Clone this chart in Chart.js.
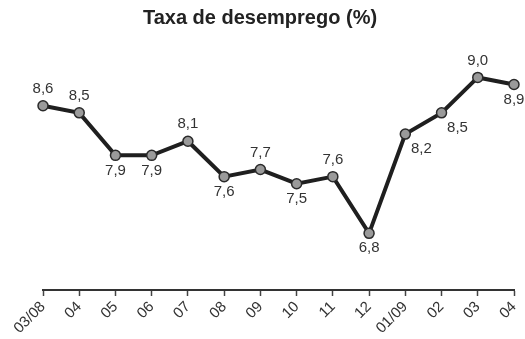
<!DOCTYPE html>
<html>
<head>
<meta charset="utf-8">
<script src="https://cdn.jsdelivr.net/npm/chart.js@4/dist/chart.umd.min.js"></script>
<style>
  html, body { margin: 0; padding: 0; background: #fff; }
  #wrap { width: 525px; height: 339px; }
</style>
</head>
<body>
<div id="wrap"><canvas id="c" width="525" height="339"></canvas></div>
<script>
// Monthly unemployment rate, March 2008 – April 2009
const months = ['03/08', '04', '05', '06', '07', '08', '09', '10', '11', '12', '01/09', '02', '03', '04'];
const rates  = [8.6, 8.5, 7.9, 7.9, 8.1, 7.6, 7.7, 7.5, 7.6, 6.8, 8.2, 8.5, 9.0, 8.9];
// Where each value label sits relative to its point
const labelSide = ['above', 'above', 'below', 'below', 'above', 'below', 'above', 'below', 'above', 'below', 'belowRight', 'belowRight', 'above', 'below'];

const FONT = '"Liberation Sans", Arial, sans-serif';

// Draws the rate next to each point, with a comma as decimal separator
const valueLabels = {
  id: 'valueLabels',
  afterDatasetsDraw(chart) {
    const ctx = chart.ctx;
    const meta = chart.getDatasetMeta(0);
    const values = chart.data.datasets[0].data;
    ctx.save();
    ctx.font = '15px ' + FONT;
    ctx.fillStyle = '#333';
    ctx.textAlign = 'center';
    ctx.textBaseline = 'middle';
    meta.data.forEach((pt, i) => {
      const txt = values[i].toFixed(1).replace('.', ',');
      let dx = 0, dy = 0;
      if (labelSide[i] === 'above') dy = -17;
      else if (labelSide[i] === 'below') dy = 15;
      else { dx = 16; dy = 15; }
      ctx.fillText(txt, pt.x + dx, pt.y + dy);
    });
    ctx.restore();
  }
};

new Chart(document.getElementById('c'), {
  type: 'line',
  data: {
    labels: months,
    datasets: [{
      data: rates,
      borderColor: '#1f1f1f',
      borderWidth: 4,
      tension: 0,
      pointRadius: 5,
      pointBackgroundColor: '#9a9a9a',
      pointBorderColor: '#2a2a2a',
      pointBorderWidth: 1.5,
      clip: false
    }]
  },
  options: {
    responsive: false,
    animation: false,
    layout: { padding: { left: 0, right: 5, top: 0, bottom: 0 } },
    plugins: {
      legend: { display: false },
      tooltip: { enabled: false },
      title: {
        display: true,
        text: 'Taxa de desemprego (%)',
        color: '#222',
        font: { family: FONT, size: 20, weight: 'bold' },
        padding: { top: 6, bottom: 12 }
      }
    },
    scales: {
      x: {
        offset: false,
        border: { display: true, color: '#333', width: 2 },
        grid: { drawOnChartArea: false, drawTicks: true, tickLength: 6, tickColor: '#444', tickWidth: 1.5 },
        ticks: {
          color: '#333',
          font: { family: FONT, size: 15 },
          minRotation: 45,
          maxRotation: 45,
          autoSkip: false,
          padding: 2
        },
        afterFit(scale) {
          scale.height = 49;
          scale.paddingLeft = 43;
          scale.paddingRight = 11;
        }
      },
      y: {
        display: false,
        min: 6,
        max: 9.5
      }
    }
  },
  plugins: [valueLabels]
});
</script>
</body>
</html>
